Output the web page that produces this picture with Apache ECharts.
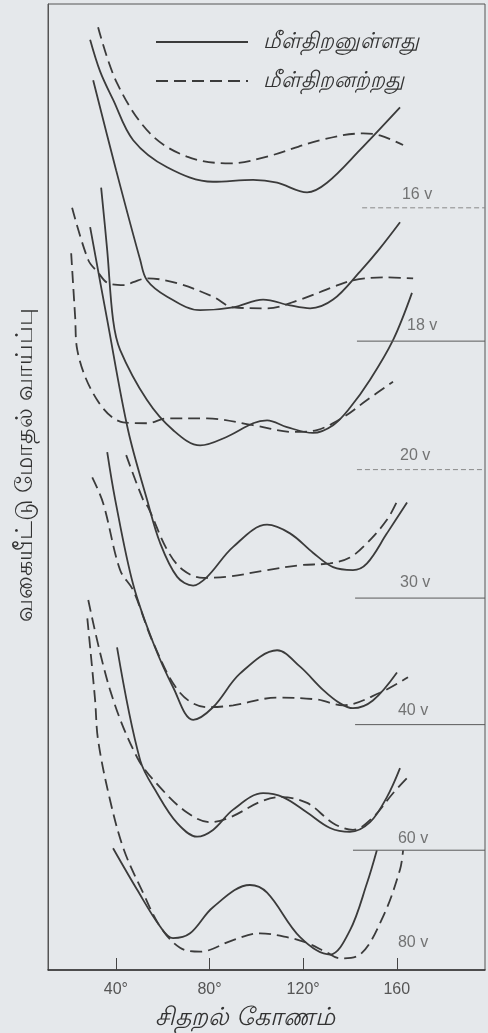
<!DOCTYPE html>
<html>
<head>
<meta charset="utf-8">
<script src="https://cdn.jsdelivr.net/npm/echarts@6/dist/echarts.min.js"></script>
<style>
html,body{margin:0;padding:0;background:#e5e8eb;}
#chart{width:488px;height:1033px;}
</style>
</head>
<body>
<div id="chart"></div>
<script>
// ---- data (scattering angle in degrees, relative differential cross-section in arbitrary units) ----
const legendNames = ['மீள்திறனுள்ளது', 'மீள்திறனற்றது']; // elastic (solid), inelastic (dashed)
const voltages = ['16 v', '18 v', '20 v', '30 v', '40 v', '60 v', '80 v'];
const tickValues = [40, 80, 120, 160];
const tickLabels = ['40°', '80°', '120°', '160'];
const xTitle = 'சிதறல் கோணம்';
const yTitle = 'வகையீட்டு மோதல் வாய்ப்பு';

const elastic16 = [[29.0,96.3],[33.3,93.0],[38.8,90.1],[47.4,85.9],[61.9,83.1],[81.5,81.6],[98.6,81.8],[108.9,81.5],[121.7,80.5],[130.2,81.5],[144.3,84.9],[161.4,89.3]];
const inelastic16 = [[32.4,97.6],[40.5,91.8],[54.6,86.6],[70.4,84.2],[88.8,83.5],[104.6,84.2],[127.2,85.9],[145.6,86.6],[152.8,86.4],[162.7,85.4]];

const elastic18 = [[30.3,92.1],[40.1,82.8],[50.4,73.5],[53.3,71.4],[61.9,69.7],[76.0,68.3],[90.1,68.6],[102.9,69.4],[114.4,68.8],[123.0,68.5],[132.8,69.4],[144.3,72.3],[152.8,74.7],[161.4,77.4]];
const inelastic18 = [[21.3,78.9],[28.2,73.5],[32.4,72.2],[36.7,71.1],[43.9,70.9],[47.4,71.2],[53.3,71.6],[66.2,71.1],[81.5,69.7],[90.1,68.6],[104.6,68.5],[118.7,69.4],[132.8,70.7],[141.3,71.4],[154.1,71.7],[167.0,71.6]];

const elastic20 = [[33.7,81.0],[36.3,74.5],[38.8,67.3],[41.8,64.2],[53.3,59.0],[64.4,55.9],[76.0,54.3],[87.5,55.2],[98.6,56.6],[104.6,56.9],[113.1,56.2],[124.2,55.6],[132.8,56.4],[140.0,58.2],[148.6,61.1],[158.4,65.2],[166.5,70.1]];
const inelastic20 = [[20.9,74.2],[22.6,67.6],[23.5,64.2],[32.0,59.0],[43.1,56.7],[53.3,56.6],[61.9,57.1],[79.0,57.1],[98.6,56.4],[115.7,55.7],[125.9,55.9],[137.0,57.2],[147.3,59.0],[158.4,60.9]];

const elastic30 = [[29.0,76.9],[36.3,67.3],[45.2,55.9],[53.3,48.7],[58.9,44.2],[66.2,40.7],[73.0,39.8],[79.0,40.7],[90.1,43.8],[104.6,46.1],[114.4,45.2],[124.2,43.2],[132.8,41.7],[141.3,41.4],[147.3,42.1],[155.8,45.2],[164.4,48.4]];
const inelastic30 = [[44.4,53.3],[51.6,48.7],[53.8,47.9],[61.9,43.5],[68.7,41.4],[77.3,40.6],[87.5,40.7],[104.6,41.4],[118.7,41.9],[131.5,42.1],[140.0,42.7],[147.3,44.2],[155.8,46.6],[160.5,48.7]];

const elastic40 = [[36.3,53.6],[39.7,48.7],[47.4,39.9],[55.9,33.9],[64.4,29.3],[73.0,25.9],[81.5,27.2],[93.1,30.7],[108.9,33.1],[118.7,31.4],[128.5,29.0],[135.8,27.6],[141.3,27.1],[149.8,27.9],[160.1,30.8]];
const inelastic40 = [[29.9,51.0],[34.6,48.3],[41.8,41.4],[47.4,39.3],[55.9,33.9],[67.4,28.7],[79.0,27.2],[90.1,27.4],[108.9,28.2],[125.9,28.0],[137.0,27.4],[152.8,28.7],[164.8,30.3]];

const elastic60 = [[40.5,33.4],[50.4,21.7],[57.6,18.3],[66.2,15.2],[74.7,13.8],[81.5,14.5],[90.1,16.6],[102.9,18.3],[111.4,17.9],[121.7,16.3],[131.5,14.7],[140.0,14.3],[148.6,15.3],[155.8,17.9],[161.4,20.9]];
const inelastic60 = [[28.2,38.3],[37.5,29.0],[49.1,22.0],[58.9,18.9],[70.4,16.3],[80.2,15.3],[88.8,15.8],[101.6,17.4],[110.1,17.9],[121.7,17.3],[132.8,15.2],[141.3,14.5],[149.8,15.8],[158.4,18.3],[165.7,20.2]];

const elastic80 = [[38.8,12.6],[49.1,8.3],[58.9,4.5],[64.4,3.3],[71.7,3.8],[81.5,6.5],[97.3,8.8],[104.6,8.0],[118.7,3.4],[131.5,1.6],[140.0,4.1],[147.3,9.0],[151.5,12.4]];
const inelastic80 = [[27.8,36.4],[31.1,28.0],[32.4,23.8],[37.5,17.6],[43.5,12.4],[51.6,8.0],[58.9,4.5],[67.4,2.3],[76.0,1.9],[90.1,3.1],[101.6,3.8],[113.1,3.4],[121.7,2.8],[130.2,1.8],[135.8,1.2],[144.3,1.6],[154.1,5.5],[161.4,10.4],[162.7,12.4]];

// zero-level reference lines drawn at the right for each voltage (80 v uses the x axis)
const baselineY = [78.9, 65.1, 51.8, 38.5, 25.4, 12.4];
const baselineStartX = [145.2, 143.0, 143.0, 142.2, 142.2, 141.3];
const labelX = [162.2, 164.4, 161.4, 161.4, 160.5, 160.5, 160.5];
const labelY = [80.3, 66.7, 53.3, 40.1, 26.9, 13.6, 2.8];

// ---- chart ----
const X_MIN = 11, X_MAX = 197.7;
const INK = '#3b3b3b';
const pairs = [
  [elastic16, inelastic16], [elastic18, inelastic18], [elastic20, inelastic20],
  [elastic30, inelastic30], [elastic40, inelastic40], [elastic60, inelastic60], [elastic80, inelastic80]
];

const series = [];
pairs.forEach(function (p) {
  series.push({
    type: 'line', name: legendNames[0], data: p[0], smooth: 0.35, symbol: 'none',
    lineStyle: { color: INK, width: 1.8, type: 'solid' }, itemStyle: { color: INK },
    silent: true, animation: false
  });
  series.push({
    type: 'line', name: legendNames[1], data: p[1], smooth: 0.35, symbol: 'none',
    lineStyle: { color: INK, width: 1.8, type: [12, 6] }, itemStyle: { color: INK },
    silent: true, animation: false
  });
});
baselineY.forEach(function (y, i) {
  const faint = (i === 0 || i === 2);
  series.push({
    type: 'line', name: 'base' + i, data: [[baselineStartX[i], y], [X_MAX, y]], symbol: 'none',
    lineStyle: { color: faint ? '#8a8a8a' : '#5a5a5a', width: 1, type: faint ? [5, 3] : 'solid' },
    silent: true, animation: false
  });
});
series.push({
  type: 'scatter', name: 'labels', symbolSize: 0, silent: true, animation: false,
  data: voltages.map(function (v, i) { return { value: [labelX[i], labelY[i]], name: v }; }),
  label: {
    show: true, position: 'right', distance: 0, formatter: '{b}',
    fontFamily: 'Liberation Sans', fontSize: 16, color: '#555'
  }
});

const chart = echarts.init(document.getElementById('chart'), null, { renderer: 'canvas' });
chart.setOption({
  backgroundColor: '#e5e8eb',
  animation: false,
  grid: { left: 48, right: 3, top: 4, bottom: 63, show: true, borderColor: '#555', borderWidth: 1, backgroundColor: 'transparent' },
  legend: {
    data: legendNames, orient: 'vertical', left: 150, top: 26, itemWidth: 92, itemHeight: 16, itemGap: 17,
    selectedMode: false,
    itemStyle: { opacity: 0, borderWidth: 0 },
    lineStyle: { width: 2 },
    textStyle: { fontSize: 22, fontStyle: 'italic', color: '#333', padding: [0, 0, 0, 10] }
  },
  xAxis: {
    type: 'value', min: X_MIN, max: X_MAX,
    axisLine: { show: true, lineStyle: { color: '#333', width: 1.5 } },
    axisTick: { show: true, inside: true, length: 12, customValues: tickValues, lineStyle: { color: '#444', width: 1 } },
    axisLabel: {
      show: true, customValues: tickValues, margin: 12,
      formatter: function (v) { const k = tickValues.indexOf(v); return k >= 0 ? tickLabels[k] : ''; },
      fontFamily: 'Liberation Sans', fontSize: 16, color: '#555'
    },
    splitLine: { show: false }
  },
  yAxis: {
    type: 'value', min: 0, max: 100,
    axisLine: { show: true, lineStyle: { color: '#555', width: 1 } },
    axisTick: { show: false }, axisLabel: { show: false }, splitLine: { show: false }
  },
  graphic: [
    { type: 'text', x: 25, y: 465, rotation: Math.PI / 2,
      style: { text: yTitle, fontSize: 24, fill: '#333', align: 'center', verticalAlign: 'middle' } },
    { type: 'text', x: 245, y: 1018,
      style: { text: xTitle, fontSize: 25, fontStyle: 'italic', fill: '#333', align: 'center', verticalAlign: 'middle' } }
  ],
  series: series
});
</script>
</body>
</html>
